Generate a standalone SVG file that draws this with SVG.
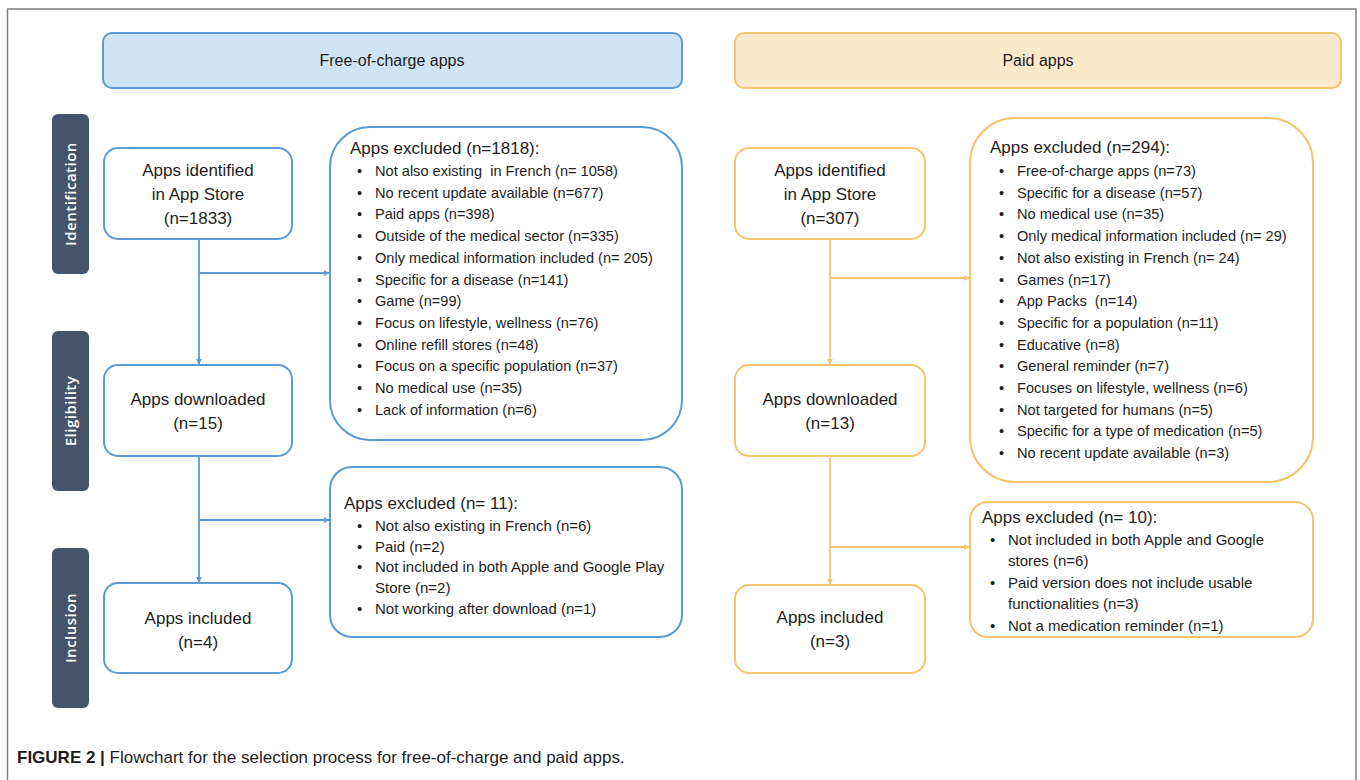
<svg xmlns="http://www.w3.org/2000/svg" width="1360" height="780" viewBox="0 0 1360 780">
<defs>
<style>
.t{font-family:"Liberation Sans",Arial,sans-serif;fill:#1e1e1e}
.bx{font-size:17px;text-anchor:middle}
.hd{font-size:16px;text-anchor:middle}
.ttl{font-size:17px}
.li{font-size:14.6px}
.l2{font-size:15px}
.side{font-family:"Open Sans","DejaVu Sans",sans-serif;font-size:15px;font-weight:600;fill:#ffffff;text-anchor:middle;letter-spacing:0.5px}
.bb{fill:#ffffff;stroke:#5b9bd5;stroke-width:2}
.ob{fill:#ffffff;stroke:#f5c46e;stroke-width:2}
.sl{fill:#44546a}
.cb{fill:none;stroke:#5b9bd5;stroke-width:1.8}
.co{fill:none;stroke:#f5c46e;stroke-width:1.8}
</style>
<marker id="ab" viewBox="0 0 8 8" refX="7" refY="4" markerWidth="6" markerHeight="6" orient="auto" markerUnits="userSpaceOnUse"><path d="M0,0 L8,4 L0,8 z" fill="#5b9bd5"/></marker>
<marker id="ao" viewBox="0 0 8 8" refX="7" refY="4" markerWidth="6" markerHeight="6" orient="auto" markerUnits="userSpaceOnUse"><path d="M0,0 L8,4 L0,8 z" fill="#f5c46e"/></marker>
</defs>
<rect x="0" y="0" width="1360" height="780" fill="#ffffff"/>
<path d="M7.5,780 V9 H1356 V780" fill="none" stroke="#808080" stroke-width="1.5"/>

<g id="hdr-free"><rect x="103" y="33" width="579" height="55" rx="9" fill="#cfe4f5" stroke="#5b9bd5" stroke-width="2"/><text class="t hd" x="392" y="66">Free-of-charge apps</text></g>
<g id="hdr-paid"><rect x="735" y="33" width="606" height="55" rx="9" fill="#fde9cc" stroke="#f5c46e" stroke-width="2"/><text class="t hd" x="1038" y="66">Paid apps</text></g>

<g id="side-identification"><rect class="sl" x="52" y="114" width="37" height="160" rx="6"/><text class="side" transform="translate(76,194) rotate(-90)">Identification</text></g>
<g id="side-eligibility"><rect class="sl" x="52" y="331" width="37" height="160" rx="6"/><text class="side" transform="translate(76,411) rotate(-90)">Eligibility</text></g>
<g id="side-inclusion"><rect class="sl" x="52" y="548" width="37" height="160" rx="6"/><text class="side" transform="translate(76,628) rotate(-90)">Inclusion</text></g>

<g id="connectors">
<path class="cb" d="M199,239 V364" marker-end="url(#ab)"/>
<path class="cb" d="M199,273 H329" marker-end="url(#ab)"/>
<path class="cb" d="M199,456 V582" marker-end="url(#ab)"/>
<path class="cb" d="M199,520 H329" marker-end="url(#ab)"/>
<path class="co" d="M830,239 V364" marker-end="url(#ao)"/>
<path class="co" d="M830,278 H969" marker-end="url(#ao)"/>
<path class="co" d="M830,456 V584" marker-end="url(#ao)"/>
<path class="co" d="M830,547 H969" marker-end="url(#ao)"/>
</g>

<g id="free-identified"><rect class="bb" x="104" y="148" width="188" height="91" rx="14"/>
<text class="t bx" x="198" y="176">Apps identified</text><text class="t bx" x="198" y="200">in App Store</text><text class="t bx" x="198" y="224">(n=1833)</text></g>
<g id="free-downloaded"><rect class="bb" x="104" y="365" width="188" height="91" rx="14"/>
<text class="t bx" x="198" y="405">Apps downloaded</text><text class="t bx" x="198" y="429">(n=15)</text></g>
<g id="free-included"><rect class="bb" x="104" y="583" width="188" height="90" rx="14"/>
<text class="t bx" x="198" y="624">Apps included</text><text class="t bx" x="198" y="648">(n=4)</text></g>

<g id="free-excluded1"><rect class="bb" x="330" y="127" width="352" height="313" rx="40"/>
<text class="t ttl" x="350" y="154">Apps excluded (n=1818):</text>
<g class="t li">
<text x="357" y="176">•</text><text x="375" y="176" xml:space="preserve">Not also existing  in French (n= 1058)</text>
<text x="357" y="197.7">•</text><text x="375" y="197.7">No recent update available (n=677)</text>
<text x="357" y="219.4">•</text><text x="375" y="219.4">Paid apps (n=398)</text>
<text x="357" y="241.1">•</text><text x="375" y="241.1">Outside of the medical sector (n=335)</text>
<text x="357" y="262.8">•</text><text x="375" y="262.8">Only medical information included (n= 205)</text>
<text x="357" y="284.5">•</text><text x="375" y="284.5">Specific for a disease (n=141)</text>
<text x="357" y="306.2">•</text><text x="375" y="306.2">Game (n=99)</text>
<text x="357" y="327.9">•</text><text x="375" y="327.9">Focus on lifestyle, wellness (n=76)</text>
<text x="357" y="349.6">•</text><text x="375" y="349.6">Online refill stores (n=48)</text>
<text x="357" y="371.3">•</text><text x="375" y="371.3">Focus on a specific population (n=37)</text>
<text x="357" y="393">•</text><text x="375" y="393">No medical use (n=35)</text>
<text x="357" y="414.7">•</text><text x="375" y="414.7">Lack of information (n=6)</text>
</g></g>

<g id="free-excluded2"><rect class="bb" x="330" y="467" width="352" height="170" rx="22"/>
<text class="t ttl" x="344" y="509">Apps excluded (n= 11):</text>
<g class="t l2">
<text x="357" y="531">•</text><text x="375" y="531">Not also existing in French (n=6)</text>
<text x="357" y="552">•</text><text x="375" y="552">Paid (n=2)</text>
<text x="357" y="572">•</text><text x="375" y="572">Not included in both Apple and Google Play</text>
<text x="375" y="593">Store (n=2)</text>
<text x="357" y="614">•</text><text x="375" y="614">Not working after download (n=1)</text>
</g></g>

<g id="paid-identified"><rect class="ob" x="735" y="148" width="190" height="91" rx="14"/>
<text class="t bx" x="830" y="176">Apps identified</text><text class="t bx" x="830" y="200">in App Store</text><text class="t bx" x="830" y="224">(n=307)</text></g>
<g id="paid-downloaded"><rect class="ob" x="735" y="365" width="190" height="91" rx="14"/>
<text class="t bx" x="830" y="405">Apps downloaded</text><text class="t bx" x="830" y="429">(n=13)</text></g>
<g id="paid-included"><rect class="ob" x="735" y="585" width="190" height="88" rx="14"/>
<text class="t bx" x="830" y="623">Apps included</text><text class="t bx" x="830" y="647">(n=3)</text></g>

<g id="paid-excluded1"><rect class="ob" x="970" y="118" width="343" height="364" rx="45"/>
<text class="t ttl" x="990" y="153">Apps excluded (n=294):</text>
<g class="t li">
<text x="999" y="176">•</text><text x="1017" y="176">Free-of-charge apps (n=73)</text>
<text x="999" y="197.7">•</text><text x="1017" y="197.7">Specific for a disease (n=57)</text>
<text x="999" y="219.4">•</text><text x="1017" y="219.4">No medical use (n=35)</text>
<text x="999" y="241.1">•</text><text x="1017" y="241.1">Only medical information included (n= 29)</text>
<text x="999" y="262.8">•</text><text x="1017" y="262.8">Not also existing in French (n= 24)</text>
<text x="999" y="284.5">•</text><text x="1017" y="284.5">Games (n=17)</text>
<text x="999" y="306.2">•</text><text x="1017" y="306.2" xml:space="preserve">App Packs  (n=14)</text>
<text x="999" y="327.9">•</text><text x="1017" y="327.9">Specific for a population (n=11)</text>
<text x="999" y="349.6">•</text><text x="1017" y="349.6">Educative (n=8)</text>
<text x="999" y="371.3">•</text><text x="1017" y="371.3">General reminder (n=7)</text>
<text x="999" y="393">•</text><text x="1017" y="393">Focuses on lifestyle, wellness (n=6)</text>
<text x="999" y="414.7">•</text><text x="1017" y="414.7">Not targeted for humans (n=5)</text>
<text x="999" y="436.4">•</text><text x="1017" y="436.4">Specific for a type of medication (n=5)</text>
<text x="999" y="458.1">•</text><text x="1017" y="458.1">No recent update available (n=3)</text>
</g></g>

<g id="paid-excluded2"><rect class="ob" x="970" y="502" width="343" height="135" rx="18"/>
<text class="t ttl" x="982" y="523">Apps excluded (n= 10):</text>
<g class="t l2">
<text x="990" y="545">•</text><text x="1008" y="545">Not included in both Apple and Google</text>
<text x="1008" y="566">stores (n=6)</text>
<text x="990" y="588">•</text><text x="1008" y="588">Paid version does not include usable</text>
<text x="1008" y="609">functionalities (n=3)</text>
<text x="990" y="631">•</text><text x="1008" y="631">Not a medication reminder (n=1)</text>
</g></g>

<text class="t" x="17" y="763" font-size="17"><tspan font-weight="bold">FIGURE 2 |</tspan> Flowchart for the selection process for free-of-charge and paid apps.</text>
</svg>
